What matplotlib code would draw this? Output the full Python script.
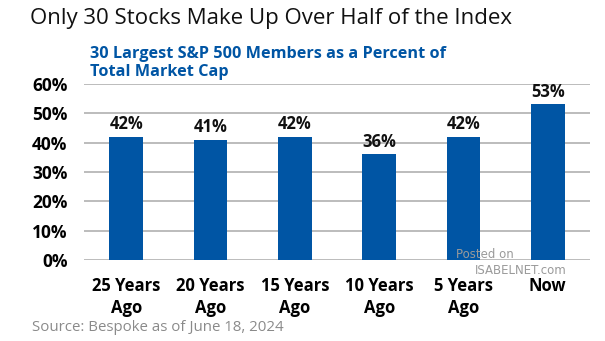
import matplotlib.pyplot as plt
import numpy as np

# === Data ===
categories = ["25 Years\nAgo", "20 Years\nAgo", "15 Years\nAgo", "10 Years\nAgo", "5 Years\nAgo", "Now"]
values = [42, 41, 42, 36, 42, 53]
yticks = [0, 10, 20, 30, 40, 50, 60]

plt.rcParams["font.family"] = ["Open Sans", "DejaVu Sans"]

blue = "#0055a4"

fig = plt.figure(figsize=(6.05, 3.41), dpi=100)
ax = fig.add_axes([0.139, 0.2375, 0.836, 0.5163])

x = np.arange(len(categories))
ax.bar(x, values, width=0.4, color=blue, zorder=3)

for xi, v in zip(x, values):
    ax.text(xi, v + 1.2, f"{v}%", ha="center", va="bottom", fontsize=12,
            fontweight="bold", color="#111111")

ax.set_ylim(0, 60)
ax.set_xlim(-0.5, len(categories) - 0.5)
ax.set_yticks(yticks)
ax.set_yticklabels([f"{t}%" for t in yticks], fontsize=12.5, fontweight="bold")
ax.set_xticks(x)
ax.set_xticklabels(categories, fontsize=12, fontweight="bold", linespacing=1.3)
ax.tick_params(length=0)
ax.tick_params(axis="x", pad=12)
ax.tick_params(axis="y", pad=12)
ax.grid(axis="y", color="#b0b0b0", linewidth=1.2, zorder=0)
for s in ax.spines.values():
    s.set_visible(False)

# === Titles ===
fig.text(0.05, 0.945, "Only 30 Stocks Make Up Over Half of the Index",
         fontsize=16, color="#111111", va="center", ha="left")
fig.text(0.148, 0.815, "30 Largest S&P 500 Members as a Percent of\nTotal Market Cap",
         fontsize=11.7, fontweight="bold", color=blue, va="center", ha="left",
         linespacing=1.15)
fig.text(0.053, 0.04, "Source: Bespoke as of June 18, 2024",
         fontsize=10.8, color="#8a8a8a", va="center", ha="left")

# watermark
fig.text(0.802, 0.255, "Posted on", fontsize=8.5, color="#9a9a9a", ha="center",
         va="center", family="DejaVu Sans")
fig.text(0.86, 0.208, "ISABELNET.com", fontsize=8.5, color="#9a9a9a", ha="center",
         va="center", family="DejaVu Sans")

fig.savefig("out.png", dpi=100)
